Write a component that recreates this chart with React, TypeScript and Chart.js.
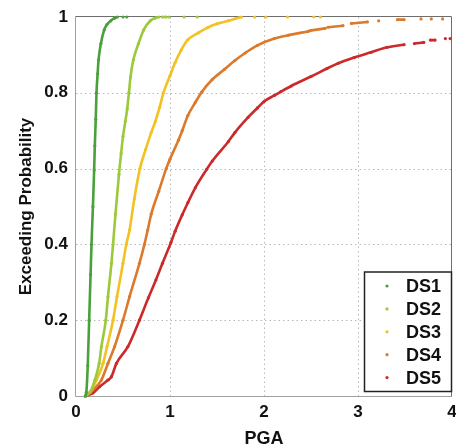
import React, { useEffect, useRef } from "react";
import { Chart, registerables } from "chart.js";

Chart.register(...registerables);

const seriesLabels = ["DS1", "DS2", "DS3", "DS4", "DS5"];
const seriesColors = ["#4aa03a", "#9cc93b", "#f2c224", "#dc7a2c", "#cc2a2a"];
const xGridValues = [1, 2, 3];
const yGridValues = [0.2, 0.4, 0.6, 0.8];
const xTitle = "PGA";
const yTitle = "Exceeding Probability";

// null entries mark a break between separated dots / dashes
const ds1X = [0.10, 0.11, 0.125, 0.14, 0.155, 0.165, 0.18, 0.193, 0.20, 0.21, 0.218, 0.23, 0.24, 0.265, 0.30, 0.33, 0.37, 0.41, 0.44, null, 0.50, null, 0.54];
const ds1Y = [0, 0.01, 0.08, 0.2, 0.32, 0.4, 0.5, 0.596, 0.66, 0.73, 0.8, 0.85, 0.887, 0.93, 0.966, 0.98, 0.99, 0.997, 1, null, 1, null, 1];

const ds2X = [0.10, 0.15, 0.2, 0.246, 0.27, 0.317, 0.34, 0.377, 0.394, 0.42, 0.457, 0.48, 0.50, 0.525, 0.545, 0.563, 0.58, 0.61, 0.665, 0.72, 0.79, 0.84, 0.88, null, 0.92, 0.96, null, 0.99, null, 1.15, null, 1.29];
const ds2Y = [0, 0.01, 0.042, 0.086, 0.13, 0.2, 0.262, 0.35, 0.4, 0.48, 0.585, 0.64, 0.685, 0.725, 0.758, 0.8, 0.842, 0.887, 0.93, 0.966, 0.99, 0.997, 1, null, 1, 1, null, 1, null, 1, null, 1];

const ds3X = [0.10, 0.15, 0.218, 0.288, 0.33, 0.394, 0.436, 0.50, 0.535, 0.57, 0.62, 0.68, 0.74, 0.80, 0.845, 0.89, 0.93, 1.0, 1.055, 1.12, 1.19, 1.3, 1.4, 1.5, 1.62, 1.7, 1.76, null, 1.9, null, 2.02, null, 2.25, null, 2.53, null, 2.6];
const ds3Y = [0, 0.01, 0.042, 0.086, 0.13, 0.2, 0.262, 0.35, 0.4, 0.438, 0.52, 0.6, 0.65, 0.695, 0.725, 0.762, 0.8, 0.845, 0.88, 0.913, 0.94, 0.958, 0.972, 0.982, 0.99, 0.996, 1, null, 1, null, 1, null, 1, null, 1, null, 1];

const ds4X = [0.10, 0.18, 0.27, 0.34, 0.41, 0.50, 0.57, 0.675, 0.728, 0.763, 0.80, 0.88, 0.96, 1.0, 1.09, 1.13, 1.19, 1.27, 1.34, 1.45, 1.58, 1.69, 1.80, 1.93, 2.11, 2.26, 2.47, null, 2.49, 2.65, null, 2.68, 2.84, null, 2.93, 3.10, null, 3.22, null, 3.42, 3.49, null, 3.67, null, 3.78, null, 3.9];
const ds4Y = [0, 0.016, 0.042, 0.086, 0.13, 0.2, 0.262, 0.35, 0.4, 0.438, 0.48, 0.54, 0.6, 0.625, 0.675, 0.70, 0.74, 0.775, 0.803, 0.835, 0.862, 0.885, 0.905, 0.925, 0.943, 0.952, 0.962, null, 0.964, 0.97, null, 0.973, 0.977, null, 0.983, 0.987, null, 0.99, null, 0.993, 0.993, null, 0.995, null, 0.995, null, 0.995];

const ds5X = [0.10, 0.18, 0.253, 0.34, 0.377, 0.43, 0.552, 0.675, 0.77, 0.85, 0.92, 1.01, 1.055, 1.13, 1.19, 1.27, 1.39, 1.45, 1.62, 1.69, 1.83, 1.93, 2.0, 2.11, 2.18, 2.29, 2.50, 2.67, 2.79, 2.96, 3.14, 3.31, 3.49, null, 3.6, 3.7, null, 3.77, 3.82, null, 3.93, null, 3.98];
const ds5Y = [0, 0.008, 0.025, 0.042, 0.051, 0.086, 0.13, 0.2, 0.259, 0.306, 0.35, 0.405, 0.435, 0.478, 0.51, 0.55, 0.598, 0.62, 0.671, 0.695, 0.735, 0.76, 0.777, 0.793, 0.803, 0.818, 0.843, 0.864, 0.878, 0.893, 0.907, 0.92, 0.927, null, 0.93, 0.933, null, 0.939, 0.939, null, 0.943, null, 0.943];

const seriesX = [ds1X, ds2X, ds3X, ds4X, ds5X];
const seriesY = [ds1Y, ds2Y, ds3Y, ds4Y, ds5Y];

const FONT = "'Liberation Sans', Arial, Helvetica, sans-serif";

function toPoints(xs: (number | null)[], ys: (number | null)[]) {
  const pts: { x: number; y: number | null }[] = [];
  let lastX = 0;
  for (let i = 0; i < xs.length; i++) {
    const xv = xs[i];
    const yv = ys[i];
    if (xv === null || yv === null) {
      pts.push({ x: lastX, y: null });
    } else {
      lastX = xv;
      pts.push({ x: xv, y: yv });
    }
  }
  return pts;
}

const framePlugin = {
  id: "frameGrid",
  beforeDatasetsDraw(chart: any) {
    const { ctx, chartArea: a, scales } = chart;
    const xs = scales.x;
    const ys = scales.y;
    ctx.save();
    ctx.lineWidth = 1;
    ctx.strokeStyle = "#b8b8b8";
    ctx.setLineDash([1.5, 3]);
    for (const v of xGridValues) {
      const px = Math.round(xs.getPixelForValue(v)) + 0.5;
      ctx.beginPath();
      ctx.moveTo(px, a.top);
      ctx.lineTo(px, a.bottom);
      ctx.stroke();
    }
    for (const v of yGridValues) {
      const py = Math.round(ys.getPixelForValue(v)) + 0.5;
      ctx.beginPath();
      ctx.moveTo(a.left, py);
      ctx.lineTo(a.right, py);
      ctx.stroke();
    }
    ctx.setLineDash([]);
    ctx.strokeStyle = "#a0a0a0";
    ctx.beginPath();
    ctx.moveTo(a.left - 0.5, a.top - 0.5);
    ctx.lineTo(a.left - 0.5, a.bottom + 0.5);
    ctx.lineTo(a.right - 0.5, a.bottom + 0.5);
    ctx.stroke();
    ctx.strokeStyle = "#6e6e6e";
    ctx.beginPath();
    ctx.moveTo(a.left - 0.5, a.top - 0.5);
    ctx.lineTo(a.right - 0.5, a.top - 0.5);
    ctx.lineTo(a.right - 0.5, a.bottom + 0.5);
    ctx.stroke();
    ctx.restore();
  },
  afterDatasetsDraw(chart: any) {
    const { ctx, chartArea: a } = chart;
    const boxRight = a.right - 0.5;
    const boxLeft = boxRight - 87;
    const boxBottom = a.bottom - 4.5;
    const boxTop = boxBottom - 119.5;
    ctx.save();
    ctx.fillStyle = "#ffffff";
    ctx.fillRect(boxLeft, boxTop, boxRight - boxLeft, boxBottom - boxTop);
    ctx.strokeStyle = "#222222";
    ctx.lineWidth = 1.5;
    ctx.strokeRect(boxLeft, boxTop, boxRight - boxLeft, boxBottom - boxTop);
    ctx.font = `bold 18px ${FONT}`;
    ctx.textBaseline = "middle";
    ctx.textAlign = "left";
    chart.data.datasets.forEach((ds: any, i: number) => {
      const cy = boxTop + 14 + i * 22.9;
      ctx.fillStyle = ds.borderColor;
      ctx.beginPath();
      ctx.arc(boxLeft + 22.5, cy, 1.6, 0, Math.PI * 2);
      ctx.fill();
      ctx.fillStyle = "#111111";
      ctx.fillText(ds.label, boxLeft + 41.5, cy + 1);
    });
    ctx.restore();
  },
};

export default function App() {
  const canvasRef = useRef<HTMLCanvasElement | null>(null);

  useEffect(() => {
    const canvas = canvasRef.current;
    if (!canvas) return;
    const datasets = seriesLabels.map((label, i) => ({
      label,
      data: toPoints(seriesX[i], seriesY[i]),
      showLine: true,
      borderColor: seriesColors[i],
      backgroundColor: seriesColors[i],
      pointBackgroundColor: seriesColors[i],
      pointBorderWidth: 0,
      pointRadius: 1.6,
      borderWidth: 2.6,
      cubicInterpolationMode: "monotone" as const,
      spanGaps: false,
      clip: false as any,
    }));

    const chart = new Chart(canvas, {
      type: "scatter",
      data: { datasets },
      options: {
        animation: false,
        responsive: false,
        devicePixelRatio: 1,
        layout: { padding: { top: 17, right: 1, left: 0, bottom: 0 } },
        plugins: {
          legend: { display: false },
          tooltip: { enabled: false },
        },
        scales: {
          x: {
            type: "linear",
            min: 0,
            max: 4,
            grid: { display: false, drawTicks: false },
            border: { display: false },
            ticks: {
              stepSize: 1,
              padding: 6,
              color: "#111111",
              font: { family: FONT, size: 17, weight: "bold" },
            },
            title: {
              display: true,
              text: xTitle,
              color: "#111111",
              padding: 0,
              font: { family: FONT, size: 18, weight: "bold", lineHeight: 1 },
            },
            afterFit(scale: any) {
              scale.height = 52;
              scale.paddingLeft = 0;
              scale.paddingRight = 0;
            },
          },
          y: {
            type: "linear",
            min: 0,
            max: 1,
            grid: { display: false, drawTicks: false },
            border: { display: false },
            ticks: {
              stepSize: 0.2,
              padding: 8,
              color: "#111111",
              font: { family: FONT, size: 17, weight: "bold" },
              callback: (v: any) => String(Number(Number(v).toFixed(1))),
            },
            title: {
              display: true,
              text: yTitle,
              color: "#111111",
              padding: { top: 16, bottom: 0 },
              font: { family: FONT, size: 17, weight: "bold" },
            },
            afterFit(scale: any) {
              scale.width = 76;
              scale.paddingTop = 0;
              scale.paddingBottom = 0;
            },
          },
        },
      },
      plugins: [framePlugin],
    });
    return () => chart.destroy();
  }, []);

  return (
    <div style={{ position: "absolute", left: 0, top: 0, width: 456, height: 448, background: "#ffffff" }}>
      <canvas ref={canvasRef} width={456} height={448} style={{ width: 456, height: 448, display: "block" }} />
    </div>
  );
}
